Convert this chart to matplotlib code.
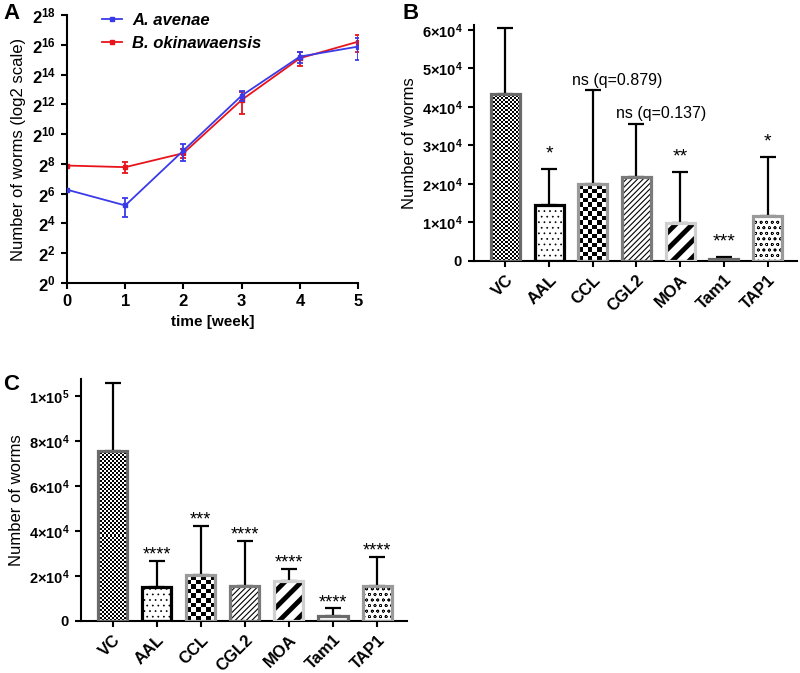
import numpy as np
import matplotlib
matplotlib.use('Agg')
import matplotlib.pyplot as plt

plt.rcParams['font.family'] = ['Liberation Sans', 'DejaVu Sans']
plt.rcParams['mathtext.fontset'] = 'custom'
plt.rcParams['mathtext.rm'] = 'Liberation Sans'
plt.rcParams['mathtext.bf'] = 'Liberation Sans:bold'
plt.rcParams['mathtext.it'] = 'Liberation Sans:italic'

# panel A: worm counts over time
weeks = [0, 1, 2, 3, 4, 5]
avenae_mean = [77, 37, 478, 6160, 37900, 60300]
avenae_err = [0, 15, 180, 1400, 10000, 28000]
okin_mean = [237, 220, 422, 5040, 35100, 75900]
okin_err = [0, 55, 87, 2400, 11000, 29000]

# panel B and C: lectin treatments
groups = ['VC', 'AAL', 'CCL', 'CGL2', 'MOA', 'Tam1', 'TAP1']
b_mean = [43500, 14500, 19900, 21900, 9800, 400, 11700]
b_err = [17000, 9400, 24400, 13700, 13300, 600, 15300]
b_sig = ['', '*', 'ns (q=0.879)', 'ns (q=0.137)', '**', '***', '*']
c_mean = [75600, 14900, 20400, 15500, 17900, 2400, 15500]
c_err = [30000, 11700, 21900, 20000, 5300, 3200, 13100]
c_sig = ['', '****', '***', '****', '****', '****', '****']

# look of each bar: edge colour, fill pattern, hatch line width
edge_cols = ['#6a6a6a', '#000000', '#9a9a9a', '#7a7a7a', '#cfcfcf', '#6a6a6a', '#9a9a9a']
fills = ['checker2', '...', 'checker4.5', '//////', '//', '....', 'ooo']
hatch_lw = [1.0, 0.5, 1.0, 0.8, 3.5, 0.6, 0.45]
BAR_W = 0.66

fig = plt.figure(figsize=(8, 6.73), dpi=100)


def style_axes(ax):
    for s in ['top', 'right']:
        ax.spines[s].set_visible(False)
    for s in ['left', 'bottom']:
        ax.spines[s].set_linewidth(1.5)
    ax.tick_params(width=1.5, length=4.5, labelsize=11)


# ---------- A
axA = fig.add_axes([0.08375, 0.5795, 0.364, 0.3982])
axA.set_yscale('log', base=2)
eb_r = axA.errorbar(weeks, okin_mean, yerr=okin_err, color='#e8141c', lw=1.3, marker='s', ms=3,
                    capsize=2, elinewidth=1.3, capthick=1.3, zorder=2)
eb_b = axA.errorbar(weeks, avenae_mean, yerr=avenae_err, color='#3a3ae8', lw=1.3, marker='s', ms=3,
                    capsize=2, elinewidth=1.3, capthick=1.3, zorder=3)
axA.set_xlim(0, 5)
axA.set_ylim(1, 2 ** 18)
axA.set_yticks([2 ** k for k in range(0, 19, 2)])
axA.set_yticklabels([r'$\mathbf{2^{%d}}$' % k for k in range(0, 19, 2)])
axA.set_xticks(weeks)
style_axes(axA)
axA.minorticks_off()
for t in axA.get_xticklabels() + axA.get_yticklabels():
    t.set_fontweight('bold')
axA.tick_params(labelsize=12)
axA.set_xlabel('time [week]', fontsize=11, fontweight='bold')
axA.set_ylabel('Number of worms (log2 scale)', fontsize=12)
axA.legend([eb_b[0], eb_r[0]], ['A. avenae', 'B. okinawaensis'], loc='upper left',
           bbox_to_anchor=(0.07, 1.065), frameon=False, handlelength=1.2, handletextpad=0.6,
           prop={'weight': 'bold', 'style': 'italic', 'size': 12})


def checker_fill(ax, xc, h, cell, patch):
    x0, y0 = ax.transData.transform((xc - BAR_W / 2, 0))
    x1, y1 = ax.transData.transform((xc + BAR_W / 2, h))
    nx = max(1, int(round((x1 - x0) / cell)))
    ny = max(1, int(round((y1 - y0) / cell)))
    grid = np.add.outer(np.arange(ny), np.arange(nx)) % 2
    im = ax.imshow(grid, cmap='gray', vmin=0, vmax=1, origin='lower', aspect='auto',
                   interpolation='nearest', extent=(xc - BAR_W / 2, xc + BAR_W / 2, 0, h), zorder=2)
    im.set_clip_path(patch)


def bar_panel(ax, means, errs, sigs, ymax, ticks, ticklabels, star_off, star_size):
    x = np.arange(len(groups))
    ax.set_xlim(-0.72, 6.68)
    ax.set_ylim(0, ymax)
    for i in range(len(groups)):
        f = fills[i]
        p = ax.bar(x[i], means[i], width=BAR_W, color='white', edgecolor='black', linewidth=0,
                   hatch=None if f.startswith('checker') else f, zorder=1.5)[0]
        if hasattr(p, 'set_hatch_linewidth'):
            p.set_hatch_linewidth(hatch_lw[i])
        if f.startswith('checker'):
            checker_fill(ax, x[i], means[i], float(f[7:]), p)
    ax.bar(x, means, width=BAR_W, fill=False, edgecolor=edge_cols, linewidth=2.3, zorder=3)
    ax.errorbar(x, means, yerr=[np.zeros(len(x)), errs], fmt='none', ecolor='black',
                elinewidth=1.6, capsize=5.5, capthick=1.6, zorder=1)
    for i, s in enumerate(sigs):
        if not s:
            continue
        if s.startswith('ns'):
            # the ns labels sit a little to the right, starting left of the bar centre
            ax.annotate(s, (x[i], means[i] + errs[i]), xytext=(-15, 2),
                        textcoords='offset points', ha='left', va='bottom', fontsize=11.5)
        else:
            ax.annotate(s, (x[i], means[i] + errs[i]), xytext=(0, star_off),
                        textcoords='offset points', ha='center', va='bottom', fontsize=star_size)
    ax.set_xlim(-0.72, 6.68)
    ax.set_ylim(0, ymax)
    ax.set_xticks(x)
    ax.set_xticklabels(groups, rotation=45, ha='right', rotation_mode='anchor',
                       fontweight='bold', fontsize=12)
    ax.set_yticks(ticks)
    ax.set_yticklabels(ticklabels)
    style_axes(ax)
    ax.tick_params(axis='y', labelsize=10.5)
    ax.tick_params(axis='x', labelsize=12)
    ax.set_ylabel('Number of worms', fontsize=12)


# ---------- B
axB = fig.add_axes([0.5925, 0.6122, 0.404, 0.3507])
b_ticks = [0, 10000, 20000, 30000, 40000, 50000, 60000]
b_lbls = [r'$\mathbf{0}$'] + [r'$\mathbf{%d{\times}10^{4}}$' % k for k in range(1, 7)]
bar_panel(axB, b_mean, b_err, b_sig, 61300, b_ticks, b_lbls, 4.5, 14)

# ---------- C
axC = fig.add_axes([0.10125, 0.0773, 0.4075, 0.3596])
c_ticks = [0, 20000, 40000, 60000, 80000, 100000]
c_lbls = [r'$\mathbf{0}$'] + [r'$\mathbf{%d{\times}10^{4}}$' % k for k in (2, 4, 6, 8)] + [r'$\mathbf{1{\times}10^{5}}$']
bar_panel(axC, c_mean, c_err, c_sig, 107500, c_ticks, c_lbls, -2, 13)

fig.text(0.004, 0.995, 'A', fontsize=16, fontweight='bold', va='top')
fig.text(0.503, 0.995, 'B', fontsize=16, fontweight='bold', va='top')
fig.text(0.004, 0.445, 'C', fontsize=16, fontweight='bold', va='top')

fig.savefig('out.png', dpi=100)
